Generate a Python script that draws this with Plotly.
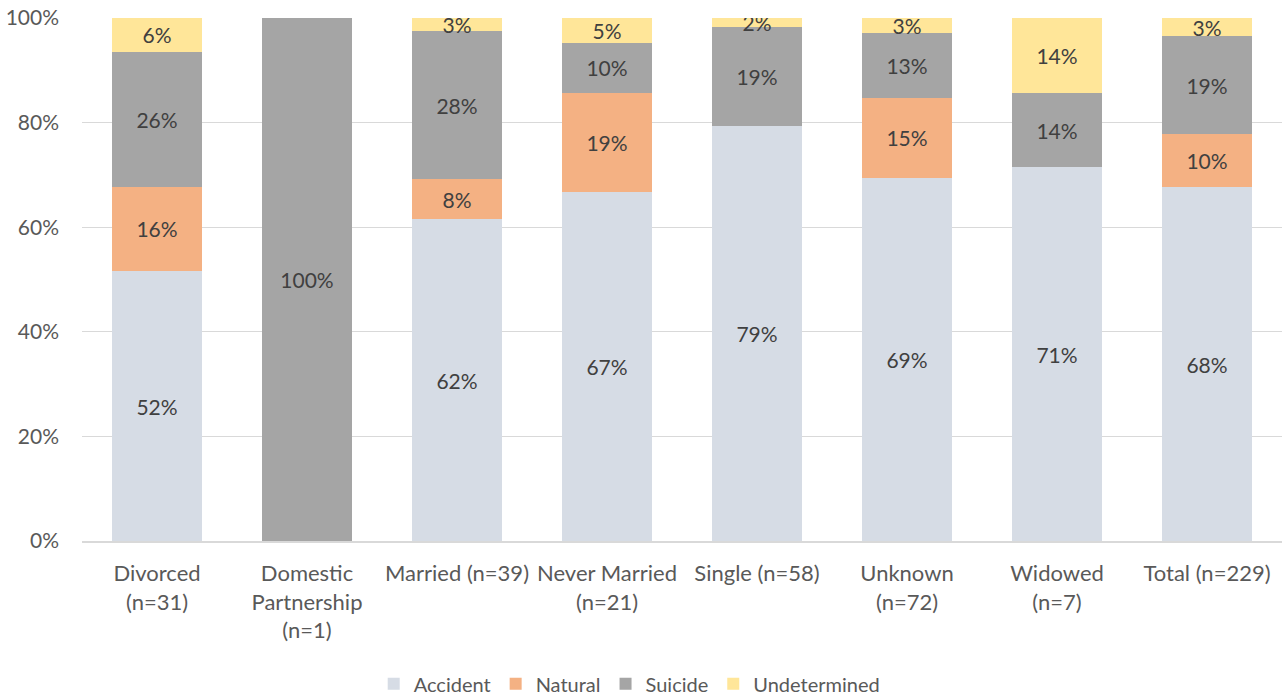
import plotly.graph_objects as go

categories = [
    "Divorced<br>(n=31)",
    "Domestic<br>Partnership<br>(n=1)",
    "Married (n=39)",
    "Never Married<br>(n=21)",
    "Single (n=58)",
    "Unknown<br>(n=72)",
    "Widowed<br>(n=7)",
    "Total (n=229)",
]

# death counts per marital status
accident = [16, 0, 24, 14, 46, 50, 5, 155]
natural = [5, 0, 3, 4, 0, 11, 0, 23]
suicide = [8, 1, 11, 2, 11, 9, 1, 43]
undetermined = [2, 0, 1, 1, 1, 2, 1, 8]

series = [
    ("Accident", accident, "#D6DCE5"),
    ("Natural", natural, "#F4B183"),
    ("Suicide", suicide, "#A5A5A5"),
    ("Undetermined", undetermined, "#FFE699"),
]

y_ticks = [0, 0.2, 0.4, 0.6, 0.8, 1.0]

totals = [sum(v) for v in zip(accident, natural, suicide, undetermined)]

FONT = "Lato, 'Liberation Sans', sans-serif"

fig = go.Figure()
for name, counts, color in series:
    shares = [c / t for c, t in zip(counts, totals)]
    labels = ["" if s == 0 else f"{int(s * 100 + 0.5)}%" for s in shares]
    fig.add_trace(
        go.Bar(
            x=categories,
            y=shares,
            name=name,
            marker=dict(color=color, line=dict(width=0)),
            text=labels,
            textposition="inside",
            insidetextanchor="middle",
            textangle=0,
            textfont=dict(color="#404040", size=21, family=FONT),
            hoverinfo="skip",
        )
    )

fig.update_layout(
    width=1285,
    height=698,
    barmode="stack",
    bargap=0.4,
    plot_bgcolor="white",
    paper_bgcolor="white",
    font=dict(family=FONT, size=20, color="#595959"),
    margin=dict(l=82, r=3, t=18, b=157, autoexpand=False),
    uniformtext=dict(minsize=21, mode="show"),
    legend=dict(
        orientation="h",
        x=0.456,
        xanchor="center",
        y=-0.273,
        yanchor="middle",
        font=dict(size=20, color="#595959"),
        traceorder="normal",
    ),
    xaxis=dict(
        showgrid=False,
        showline=True,
        linecolor="#D9D9D9",
        linewidth=1.5,
        ticks="",
        ticklabelstandoff=12,
        tickfont=dict(size=22),
        automargin=False,
    ),
    yaxis=dict(
        range=[0, 1],
        tickvals=y_ticks,
        tickformat=".0%",
        showgrid=True,
        gridcolor="#D9D9D9",
        gridwidth=1,
        zeroline=False,
        ticks="",
        ticklabelstandoff=22,
        ticklabeloverflow="allow",
        tickfont=dict(size=21),
        automargin=False,
    ),
)

# drop the default page margin so the figure fills the window exactly
fig.write_html(
    "out.html",
    config={"displayModeBar": False},
    post_script="document.body.style.margin = '0';",
)
